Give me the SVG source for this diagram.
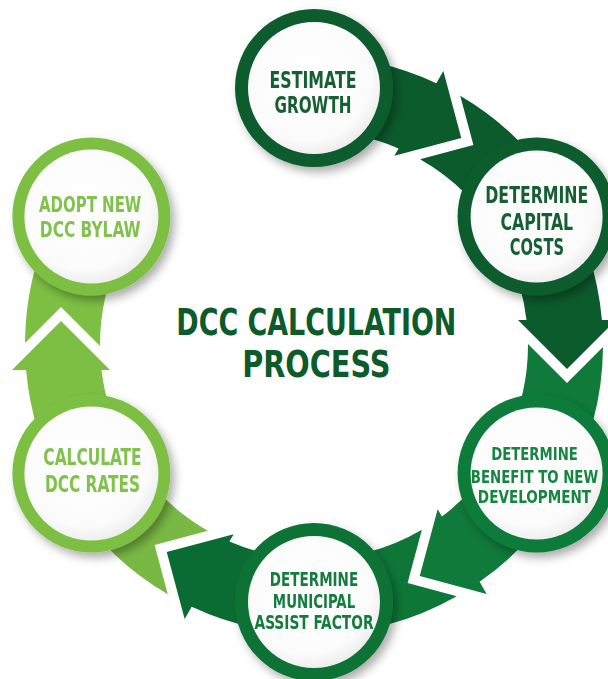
<svg xmlns="http://www.w3.org/2000/svg" width="608" height="679" viewBox="0 0 608 679">
<style>
.t{font-family:"Liberation Sans Narrow","DejaVu Sans Condensed","Liberation Sans",Arial,sans-serif;font-weight:bold;text-anchor:middle}
.dk{fill:#0c5c2e}.md{fill:#0f7b3a}.md2{fill:#0e7336}.lt{fill:#7dbf43}
.tdk{fill:#165e31}.tmd{fill:#138540}.tmd2{fill:#127c3c}.tlt{fill:#80c24b}
</style>
<defs>
<radialGradient id="wg" cx="0.45" cy="0.42" r="0.6">
<stop offset="0" stop-color="#ffffff"/><stop offset="0.8" stop-color="#fbfbfb"/><stop offset="1" stop-color="#ececec"/>
</radialGradient>
<filter id="sh" x="-30%" y="-30%" width="160%" height="160%">
<feDropShadow dx="4" dy="5" stdDeviation="5" flood-color="#000" flood-opacity="0.33"/>
</filter>
</defs>
<rect width="608" height="679" fill="#ffffff"/>
<g id="connectors">
<path fill="#0b5b2d" transform="rotate(120 314 345)" d="M63.7,489.5 A289,289 0 0 1 26.1,370 L12,370 L61,321 L110,370 L101.5,370 A214,214 0 0 0 128.7,452 Z"/>
<path fill="#0b5b2d" transform="rotate(120 314 345)" d="M25,343 L61,307 L100,346 A214,214 0 0 1 128.7,238 L63.7,200.5 A289,289 0 0 0 25,343 Z"/>
<path fill="#0b5b2d" transform="rotate(180 314 345)" d="M63.7,489.5 A289,289 0 0 1 26.1,370 L12,370 L61,321 L110,370 L101.5,370 A214,214 0 0 0 128.7,452 Z"/>
<path fill="#0f7a3a" transform="rotate(180 314 345)" d="M25,343 L61,307 L100,346 A214,214 0 0 1 128.7,238 L63.7,200.5 A289,289 0 0 0 25,343 Z"/>
<path fill="#0f7a3a" transform="rotate(-120 314 345)" d="M63.7,489.5 A289,289 0 0 1 26.1,370 L12,370 L61,321 L110,370 L101.5,370 A214,214 0 0 0 128.7,452 Z"/>
<path fill="#0e7737" transform="rotate(-120 314 345)" d="M25,343 L61,307 L100,346 A214,214 0 0 1 128.7,238 L63.7,200.5 A289,289 0 0 0 25,343 Z"/>
<path fill="#0b6c33" transform="rotate(-60 314 345)" d="M63.7,489.5 A289,289 0 0 1 26.1,370 L12,370 L61,321 L110,370 L101.5,370 A214,214 0 0 0 128.7,452 Z"/>
<path fill="#7ab844" transform="rotate(-60 314 345)" d="M25,343 L61,307 L100,346 A214,214 0 0 1 128.7,238 L63.7,200.5 A289,289 0 0 0 25,343 Z"/>
<path fill="#7dbf43" d="M63.7,489.5 A289,289 0 0 1 26.1,370 L12,370 L61,321 L110,370 L101.5,370 A214,214 0 0 0 128.7,452 Z"/>
<path fill="#7dbf43" d="M25,343 L61,307 L100,346 A214,214 0 0 1 128.7,238 L63.7,200.5 A289,289 0 0 0 25,343 Z"/>
</g>
<g id="estimate-growth" filter="url(#sh)">
<circle cx="314" cy="88" r="79" class="dk"/><circle cx="314" cy="88" r="66" fill="url(#wg)"/>
<g transform="translate(313 0) scale(0.8 1)">
<text class="t tdk" font-size="23" x="0" y="88.3" textLength="108.8" lengthAdjust="spacingAndGlyphs">ESTIMATE</text>
<text class="t tdk" font-size="23" x="0" y="113.3" textLength="96.3" lengthAdjust="spacingAndGlyphs">GROWTH</text>
</g>
</g>
<g id="capital-costs" filter="url(#sh)">
<circle cx="536.6" cy="216.5" r="79" class="dk"/><circle cx="536.6" cy="216.5" r="66" fill="url(#wg)"/>
<g transform="translate(536.8 0) scale(0.8 1)">
<text class="t tdk" font-size="23" x="0" y="203.3" textLength="128.8" lengthAdjust="spacingAndGlyphs">DETERMINE</text>
<text class="t tdk" font-size="23" x="0" y="230" textLength="90.9" lengthAdjust="spacingAndGlyphs">CAPITAL</text>
<text class="t tdk" font-size="23" x="0" y="255" textLength="67.9" lengthAdjust="spacingAndGlyphs">COSTS</text>
</g>
</g>
<g id="benefit" filter="url(#sh)">
<circle cx="536.6" cy="473.5" r="79" class="md"/><circle cx="536.6" cy="473.5" r="66" fill="url(#wg)"/>
<g transform="translate(534.5 0) scale(0.8 1)">
<text class="t tmd" font-size="18.5" x="0" y="460" textLength="108.4" lengthAdjust="spacingAndGlyphs">DETERMINE</text>
<text class="t tmd" font-size="18.5" x="0" y="483.3" textLength="159.1" lengthAdjust="spacingAndGlyphs">BENEFIT TO NEW</text>
<text class="t tmd" font-size="18.5" x="0" y="503.5" textLength="141.6" lengthAdjust="spacingAndGlyphs">DEVELOPMENT</text>
</g>
</g>
<g id="municipal-assist" filter="url(#sh)">
<circle cx="314" cy="602" r="79" class="md2"/><circle cx="314" cy="602" r="66" fill="url(#wg)"/>
<g transform="translate(314 0) scale(0.8 1)">
<text class="t tmd2" font-size="19.5" x="0" y="586" textLength="110.4" lengthAdjust="spacingAndGlyphs">DETERMINE</text>
<text class="t tmd2" font-size="19.5" x="0" y="607.7" textLength="102.9" lengthAdjust="spacingAndGlyphs">MUNICIPAL</text>
<text class="t tmd2" font-size="19.5" x="0" y="629" textLength="148.8" lengthAdjust="spacingAndGlyphs">ASSIST FACTOR</text>
</g>
</g>
<g id="calculate-rates" filter="url(#sh)">
<circle cx="91.4" cy="473.5" r="79" class="lt"/><circle cx="91.4" cy="473.5" r="67" fill="url(#wg)"/>
<g transform="translate(92.5 0) scale(0.8 1)">
<text class="t tlt" font-size="23.5" x="0" y="465" textLength="122.9" lengthAdjust="spacingAndGlyphs">CALCULATE</text>
<text class="t tlt" font-size="23.5" x="0" y="491.7" textLength="118.8" lengthAdjust="spacingAndGlyphs">DCC RATES</text>
</g>
</g>
<g id="adopt-bylaw" filter="url(#sh)">
<circle cx="91.4" cy="216.5" r="79" class="lt"/><circle cx="91.4" cy="216.5" r="67" fill="url(#wg)"/>
<g transform="translate(90.2 0) scale(0.8 1)">
<text class="t tlt" font-size="21" x="0" y="211.7" textLength="127.9" lengthAdjust="spacingAndGlyphs">ADOPT NEW</text>
<text class="t tlt" font-size="21" x="0" y="236.7" textLength="125.9" lengthAdjust="spacingAndGlyphs">DCC BYLAW</text>
</g>
</g>
<g id="title" transform="translate(316.3 0) scale(0.82 1)">
<text class="t" fill="#0d5a2b" font-size="37.5" x="0" y="335" textLength="341.5" lengthAdjust="spacingAndGlyphs">DCC CALCULATION</text>
<text class="t" fill="#0d5a2b" font-size="37.5" x="0" y="377" textLength="180.9" lengthAdjust="spacingAndGlyphs">PROCESS</text>
</g>
</svg>
